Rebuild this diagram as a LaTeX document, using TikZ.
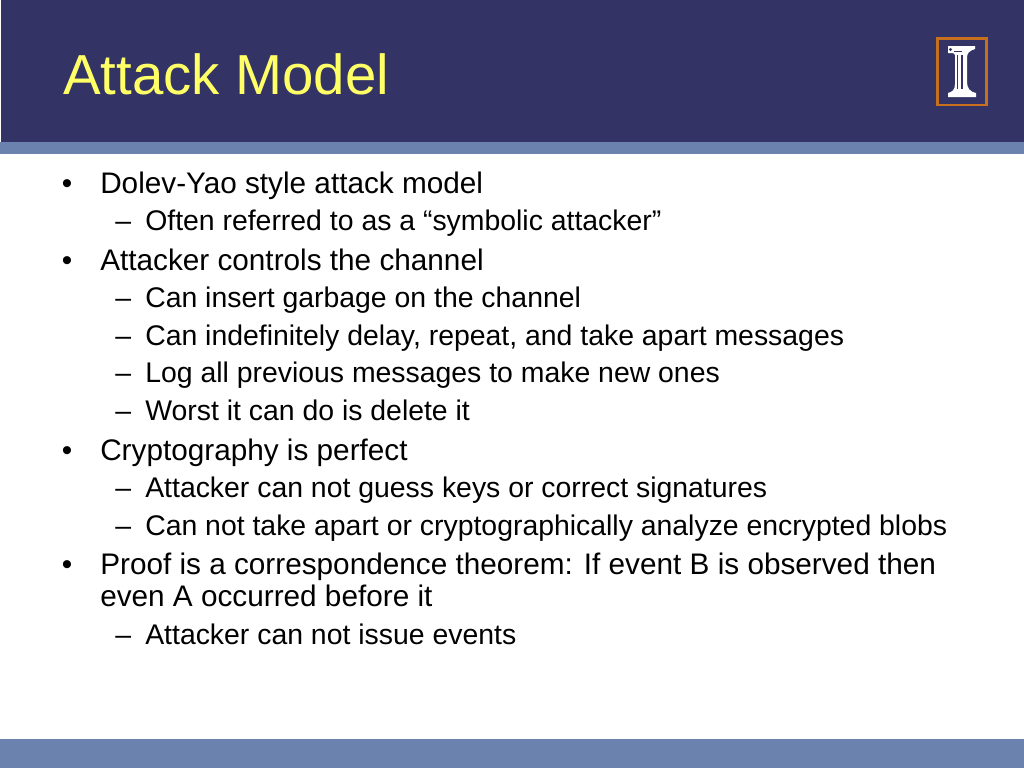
\documentclass[tikz,border=0pt]{standalone}
\usepackage{fontspec}
\setmainfont{Liberation Sans}

\definecolor{bannerblue}{HTML}{333366}
\definecolor{stripeblue}{HTML}{6C82AE}
\definecolor{titleyellow}{HTML}{FFFF66}
\definecolor{logoorange}{HTML}{C8701E}

\begin{document}
\begin{tikzpicture}[
            x = 0.75pt,
            y = -0.75pt,
            title/.style = {anchor = base west, inner sep = 0pt, text = titleyellow, font = \fontsize{42.3}{42}\selectfont},
            itema/.style = {anchor = base west, inner sep = 0pt, font = \fontsize{22.3}{24}\selectfont},
            itemb/.style = {anchor = base west, inner sep = 0pt, font = \fontsize{21.3}{24}\selectfont}
        ]

        \useasboundingbox (0,0) rectangle (1024,768);

        % banner and stripes
        \fill[bannerblue] (1,0) rectangle (1024,142);
        \fill[stripeblue] (0,142) rectangle (1024,154);
        \fill[stripeblue] (0,739) rectangle (1024,768);

        \node[title] (head) at (63,94) {Attack Model};

        % logo
        \draw[logoorange, line width = 2pt] (937.5,38.5) rectangle (986.5,105);
        \fill[white] (948,46) -- (975,46) -- (975,49) .. controls (969,51) and (967,53) .. (967,58) -- (967,82) .. controls (967,88) and (970,92) .. (976,93) -- (976,97) -- (948,97) -- (948,93) .. controls (952,92) and (955,90) .. (955,84) -- (955,55) -- (953,53) -- (948,53) -- cycle;
        \fill[bannerblue] (956.5,55) rectangle (958,89);
        \fill[bannerblue] (961,55) rectangle (962.5,89);
        \fill[bannerblue] (954,50.5) rectangle (962,52);
        \fill[bannerblue] (950.5,49.5) circle (1.7);

        % first level
        \node[itema] (b1) at (61.5,193) {•};
        \node[itema] (t1) at (100,193) {Dolev-Yao style attack model};
        \node[itema] (b2) at (61.5,270) {•};
        \node[itema] (t2) at (100,270) {Attacker controls the channel};
        \node[itema] (b3) at (61.5,460) {•};
        \node[itema] (t3) at (100,460) {Cryptography is perfect};
        \node[itema] (b4) at (61.5,574) {•};
        \node[itema] (t4) at (100,574) {Proof is a correspondence theorem: If event B is observed then};
        \node[itema] (t4b) at (100,606) {even A occurred before it};

        % second level
        \node[itemb] (d1) at (115,230.5) {–};
        \node[itemb] (s1) at (145,230.5) {Often referred to as a “symbolic attacker”};
        \node[itemb] (d2) at (115,307.5) {–};
        \node[itemb] (s2) at (145,307.5) {Can insert garbage on the channel};
        \node[itemb] (d3) at (115,345.5) {–};
        \node[itemb] (s3) at (145,345.5) {Can indefinitely delay, repeat, and take apart messages};
        \node[itemb] (d4) at (115,382.5) {–};
        \node[itemb] (s4) at (145,382.5) {Log all previous messages to make new ones};
        \node[itemb] (d5) at (115,420.5) {–};
        \node[itemb] (s5) at (145,420.5) {Worst it can do is delete it};
        \node[itemb] (d6) at (115,497.5) {–};
        \node[itemb] (s6) at (145,497.5) {Attacker can not guess keys or correct signatures};
        \node[itemb] (d7) at (115,535) {–};
        \node[itemb] (s7) at (145,535) {Can not take apart or cryptographically analyze encrypted blobs};
        \node[itemb] (d8) at (115,644) {–};
        \node[itemb] (s8) at (145,644) {Attacker can not issue events};
    \end{tikzpicture}
\end{document}
